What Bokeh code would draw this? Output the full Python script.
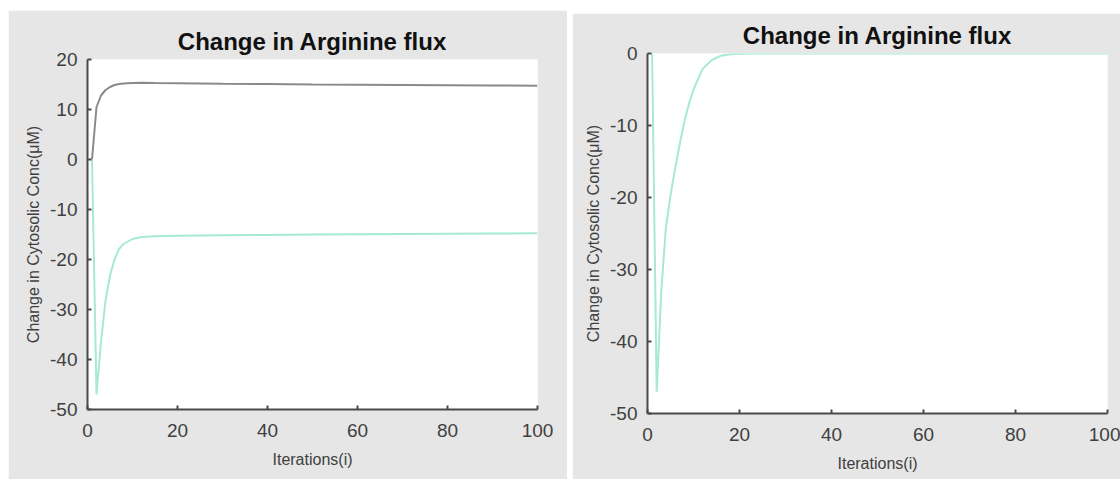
from bokeh.plotting import figure
from bokeh.layouts import row, column
from bokeh.models import Spacer, FixedTicker, Range1d
from bokeh.embed import file_html
from bokeh.resources import INLINE

# ---- data ----
title_text = "Change in Arginine flux"
x_label = "Iterations(i)"
y_label = "Change in Cytosolic Conc(\u03bcM)"

iters_left = [1, 2, 3, 4, 5, 6, 7, 8, 10, 12, 15, 20, 30, 40, 50, 60, 70, 80, 90, 100]
grey_left = [0, 10.5, 12.8, 13.9, 14.5, 14.9, 15.1, 15.2, 15.3, 15.35, 15.3, 15.25,
             15.15, 15.1, 15.0, 14.95, 14.9, 14.85, 14.8, 14.75]
green_left = [0, -47, -36.5, -28.2, -23.2, -20.0, -17.9, -16.9, -15.9, -15.5, -15.35,
              -15.25, -15.15, -15.1, -15.0, -14.95, -14.9, -14.85, -14.8, -14.75]

iters_right = [1, 2, 3, 4, 5, 6, 7, 8, 9, 10, 12, 14, 16, 18, 20, 30, 50, 100]
green_right = [0, -47, -33, -24.2, -19.7, -16, -12.6, -9.5, -7.0, -5.0, -2.1, -0.9,
               -0.3, -0.1, -0.03, 0, 0, 0]

x_ticks = [0, 20, 40, 60, 80, 100]
y_ticks_left = [20, 10, 0, -10, -20, -30, -40, -50]
y_ticks_right = [0, -10, -20, -30, -40, -50]

GREY_BG = "#e6e6e6"
AXIS_COL = "#4a4a4a"
TEXT_COL = "#404040"
FONT = "Liberation Sans"


def make_fig(width, height, y_lo, y_hi, yticks, borders):
    left, top, right, bottom = borders
    p = figure(width=width, height=height, output_backend="svg", toolbar_location=None,
               x_range=Range1d(0, 100), y_range=Range1d(y_lo, y_hi),
               min_border_left=left, min_border_top=top,
               min_border_right=right, min_border_bottom=bottom,
               title=title_text)
    p.background_fill_color = "white"
    p.border_fill_color = GREY_BG
    p.outline_line_color = None
    p.grid.visible = False
    p.title.align = "center"
    p.title.text_font = FONT
    p.title.text_font_size = "24px"
    p.title.text_font_style = "bold"
    p.title.text_color = "#111111"
    p.title.standoff = 10
    p.xaxis.ticker = FixedTicker(ticks=x_ticks)
    p.yaxis.ticker = FixedTicker(ticks=yticks)
    p.xaxis.major_label_overrides = {t: str(t) for t in x_ticks}
    p.yaxis.major_label_overrides = {t: str(t) for t in yticks}
    for ax in (p.xaxis, p.yaxis):
        ax.axis_line_color = AXIS_COL
        ax.axis_line_width = 2
        ax.major_tick_line_color = AXIS_COL
        ax.major_tick_line_width = 2
        ax.major_tick_in = 4
        ax.major_tick_out = 0
        ax.minor_tick_line_color = None
        ax.major_label_text_font = FONT
        ax.major_label_text_font_size = "19px"
        ax.major_label_text_color = TEXT_COL
        ax.axis_label_text_font = FONT
        ax.axis_label_text_font_size = "16px"
        ax.axis_label_text_font_style = "normal"
        ax.axis_label_text_color = TEXT_COL
    p.xaxis.axis_label = x_label
    p.yaxis.axis_label = y_label
    p.xaxis.major_label_standoff = 14
    p.yaxis.major_label_standoff = 10
    p.xaxis.axis_label_standoff = 11
    p.yaxis.axis_label_standoff = 5
    return p


p1 = make_fig(559, 469, -50, 20, y_ticks_left, (79, 49, 30, 70))
p1.line(iters_left, grey_left, line_color="#8a8a8a", line_width=2)
p1.line(iters_left, green_left, line_color="#a6ead2", line_width=2)

p2 = make_fig(548, 466, -50, 0, y_ticks_right, (75, 40, 13, 66))
p2.line(iters_right, green_right, line_color="#a6ead2", line_width=2)

layout = row(Spacer(width=8),
             column(Spacer(height=10), p1),
             Spacer(width=5),
             column(Spacer(height=13), p2))

open("out.html", "w").write(file_html(layout, INLINE))
